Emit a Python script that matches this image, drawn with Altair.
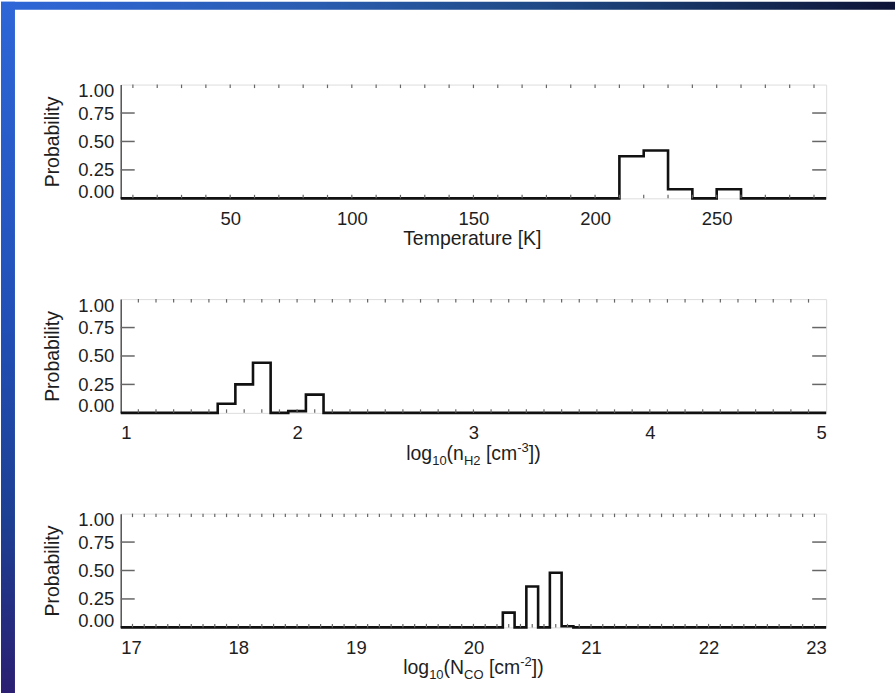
import altair as alt
import pandas as pd

# ---------------- data ----------------
temp_edges = [5, 210, 220, 230, 240, 250, 260, 295]
temp_prob = [0.0, 0.37, 0.42, 0.08, 0.0, 0.08, 0.0, 0.0]

nh2_edges = [1.0, 1.55, 1.65, 1.75, 1.85, 1.95, 2.05, 2.15, 5.0]
nh2_prob = [0.0, 0.08, 0.25, 0.44, 0.0, 0.015, 0.16, 0.0, 0.0]

nco_edges = [17.0, 20.25, 20.35, 20.45, 20.55, 20.65, 20.75, 20.85, 23.0]
nco_prob = [0.0, 0.13, 0.0, 0.36, 0.0, 0.48, 0.01, 0.0, 0.0]

temp_labels = [50, 100, 150, 200, 250]
nh2_labels = [1, 2, 3, 4, 5]
nco_labels = [17, 18, 19, 20, 21, 22, 23]

temp_minor = list(range(10, 295, 10))
nh2_minor = [round(1 + 0.1 * i, 1) for i in range(1, 40)]
nco_minor = [round(17 + 0.1 * i, 1) for i in range(1, 60)]

prob_labels = [0.0, 0.25, 0.5, 0.75, 1.0]
prob_ticks = [0.25, 0.5, 0.75]

temp_title = [("Temperature [K]", "m")]
nh2_title = [("log", "m"), ("10", "sub"), ("(n", "m"), ("H2", "sub"),
             (" [cm", "m"), ("-3", "sup"), ("])", "m")]
nco_title = [("log", "m"), ("10", "sub"), ("(N", "m"), ("CO", "sub"),
             (" [cm", "m"), ("-2", "sup"), ("])", "m")]

# ---------------- style ----------------
FONT = "Liberation Sans"
W, H = 707, 114
MAIN, SUB = 19.5, 13
TXT = "#1e1e1e"
TICK = "#666666"

# Arial / Liberation Sans advance widths (per 1000 em) for title layout
AW = {"T": 611, "e": 556, "m": 833, "p": 556, "r": 333, "a": 556, "t": 278,
      "u": 556, " ": 278, "[": 278, "K": 667, "]": 278, "l": 222, "o": 556,
      "g": 556, "1": 556, "0": 556, "(": 333, ")": 333, "n": 556, "H": 722,
      "2": 556, "3": 556, "c": 500, "-": 333, "N": 722, "C": 722, "O": 778}

one = pd.DataFrame({"a": [0]})


def tw(t, s):
    return sum(AW.get(ch, 556) for ch in t) * s / 1000


def title_layers(pieces):
    sizes = [MAIN if k == "m" else SUB for _, k in pieces]
    total = sum(tw(t, s) for (t, _), s in zip(pieces, sizes))
    x = W / 2 - total / 2
    out = []
    for (t, k), s in zip(pieces, sizes):
        lead = len(t) - len(t.lstrip(" "))
        x += tw(" " * lead, s)
        body = t.lstrip(" ")
        dy = 0 if k == "m" else (5 if k == "sub" else -8)
        out.append(
            alt.Chart(one).mark_text(text=body, align="left", baseline="alphabetic",
                                     fontSize=s, font=FONT, color=TXT)
            .encode(x=alt.value(x), y=alt.value(H + 47 + dy))
        )
        x += tw(body, s)
    return out


def panel(edges, probs, xdom, labels, minor, pieces, strips=False):
    df = pd.DataFrame({"x": edges, "p": probs})
    xs = alt.Scale(domain=xdom, nice=False, zero=False)
    ys = alt.Scale(domain=[0, 1], nice=False)

    line = alt.Chart(df).mark_line(interpolate="step-after", color="#111111",
                                   strokeWidth=2.6).encode(
        x=alt.X("x:Q", scale=xs,
                axis=alt.Axis(values=labels, format="d", title=None, ticks=False,
                              tickSize=0, domain=False, grid=False, labelPadding=11,
                              labelFontSize=18.5, labelColor=TXT, labelFont=FONT)),
        y=alt.Y("p:Q", scale=ys,
                axis=alt.Axis(values=prob_labels, format=".2f", title="Probability",
                              ticks=False, tickSize=0, domain=True, domainColor="#555555",
                              domainWidth=1.5, grid=False, labelPadding=7,
                              labelFlush=True, labelFlushOffset=3, labelFontSize=18.5,
                              labelColor=TXT, labelFont=FONT, titleFont=FONT,
                              titleFontSize=19.5, titleFontWeight="normal",
                              titleColor=TXT, titlePadding=15)),
    )

    ydf = pd.DataFrame({"p": prob_ticks})
    yl = alt.Chart(ydf).mark_rule(color=TICK, strokeWidth=1.5).encode(
        y=alt.Y("p:Q", scale=ys, axis=None), x=alt.value(0), x2=alt.value(14))
    yr = alt.Chart(ydf).mark_rule(color=TICK, strokeWidth=1.5).encode(
        y=alt.Y("p:Q", scale=ys, axis=None), x=alt.value(W - 14), x2=alt.value(W))

    xdf = pd.DataFrame({"x": minor})
    xt = alt.Chart(xdf).mark_rule(color=TICK, strokeWidth=1.2).encode(
        x=alt.X("x:Q", scale=xs, axis=None), y=alt.value(0), y2=alt.value(3.5))
    xb = alt.Chart(xdf).mark_rule(color=TICK, strokeWidth=1.2).encode(
        x=alt.X("x:Q", scale=xs, axis=None), y=alt.value(H - 3.5), y2=alt.value(H))

    layers = []
    if strips:
        left = alt.Chart(one).mark_rect(
            strokeWidth=0,
            fill=alt.LinearGradient(gradient="linear", x1=0, y1=0, x2=0, y2=1, stops=[
                alt.GradientStop(offset=0, color="#2e66d8"),
                alt.GradientStop(offset=0.45, color="#2250b8"),
                alt.GradientStop(offset=0.75, color="#1d3f93"),
                alt.GradientStop(offset=1, color="#2b1f72")]),
        ).encode(x=alt.value(-120), x2=alt.value(-106), y=alt.value(-83), y2=alt.value(610))
        top = alt.Chart(one).mark_rect(
            strokeWidth=0,
            fill=alt.LinearGradient(gradient="linear", x1=0, y1=0, x2=1, y2=0, stops=[
                alt.GradientStop(offset=0, color="#2e66d8"),
                alt.GradientStop(offset=0.35, color="#2a5cb0"),
                alt.GradientStop(offset=0.6, color="#1f4a86"),
                alt.GradientStop(offset=0.8, color="#16305e"),
                alt.GradientStop(offset=1, color="#0e1336")]),
        ).encode(x=alt.value(-120), x2=alt.value(776), y=alt.value(-83), y2=alt.value(-75))
        layers += [left, top]

    layers += [line, yl, yr, xt, xb] + title_layers(pieces)
    return (alt.layer(*layers).properties(width=W, height=H)
            .resolve_axis(x="independent", y="independent"))


p1 = panel(temp_edges, temp_prob, [5, 295], temp_labels, temp_minor, temp_title, strips=True)
p2 = panel(nh2_edges, nh2_prob, [1, 5], nh2_labels, nh2_minor, nh2_title)
p3 = panel(nco_edges, nco_prob, [17, 23], nco_labels, nco_minor, nco_title)

chart = (
    alt.vconcat(p1, p2, p3, spacing=101, bounds="flush")
    .properties(padding=0, background="white")
    .configure_view(stroke="#888888", strokeWidth=1.5)
    .configure(font=FONT)
)

chart.save("out.html", embed_options={"renderer": "svg", "actions": False})
